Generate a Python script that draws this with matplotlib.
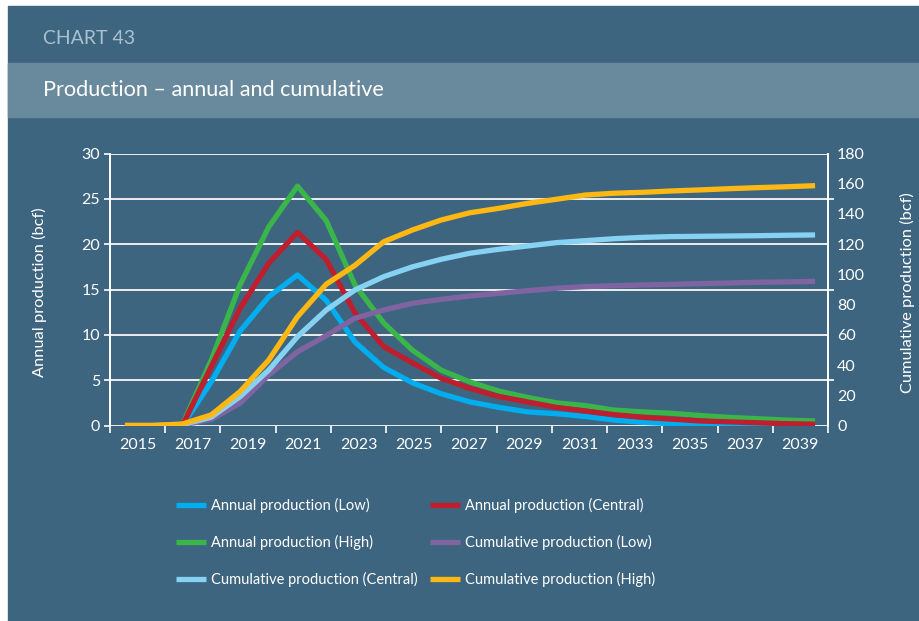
import numpy as np
import matplotlib.pyplot as plt
from matplotlib.patches import Rectangle
from matplotlib.lines import Line2D

plt.rcParams['font.family'] = ['Lato', 'DejaVu Sans']

years = list(range(2015, 2040))
year_labels = [str(y) for y in years[::2]]

# annual production, bcf (left axis)
annual_low = [0, 0, 0, 4.8, 10.4, 14.2, 16.6, 13.8, 9.2, 6.4, 4.7, 3.5, 2.6, 2.0, 1.5,
              1.3, 1.0, 0.6, 0.35, 0.2, 0.1, 0.05, 0.05, 0, 0]
annual_central = [0, 0, 0, 6.5, 12.9, 17.9, 21.3, 18.3, 12.4, 8.7, 6.9, 5.2, 4.1, 3.2, 2.6,
                  2.0, 1.6, 1.2, 0.9, 0.7, 0.5, 0.4, 0.3, 0.2, 0.15]
annual_high = [0, 0, 0.1, 7.2, 15.5, 21.9, 26.4, 22.6, 15.5, 11.3, 8.3, 6.1, 4.8, 3.8, 3.1,
               2.5, 2.2, 1.7, 1.5, 1.35, 1.1, 0.9, 0.75, 0.6, 0.5]

# cumulative production, bcf (right axis)
cum_low = [0, 0, 0.3, 4, 14.7, 33.4, 48.8, 59.5, 71, 76.4, 80.9, 83.5, 85.7, 87.5, 89.2,
           90.8, 91.9, 92.5, 93, 93.4, 93.9, 94.3, 94.8, 95, 95.4]
cum_central = [0, 0, 0.5, 5.5, 19, 36.7, 58.8, 76.4, 89.7, 98.5, 105, 110, 114, 116.6, 118.8,
               121, 122.3, 123.6, 124.5, 125, 125.2, 125.4, 125.6, 125.9, 126.1]
cum_high = [0, 0, 1, 7, 22.4, 43.3, 72, 93.5, 106, 121.6, 129.4, 136, 140.8, 143.7, 147,
            149.7, 152.5, 153.7, 154.3, 155.2, 155.9, 156.7, 157.4, 158, 158.7]

bg = '#3E6580'
band = '#698A9D'
c_low, c_central, c_high = '#00AEEF', '#BE1E2D', '#39B54A'
c_cum_low, c_cum_central, c_cum_high = '#8064A2', '#87D1F3', '#FDB813'
lw = 3.8
fs = 11.5

fig = plt.figure(figsize=(9.19, 6.21), dpi=100, facecolor='white')

# panel and header bands (pixel coords converted to figure fraction)
W, H = 919, 621
def box(x0, y0, x1, y1, color):
    fig.patches.append(Rectangle((x0 / W, 1 - y1 / H), (x1 - x0) / W, (y1 - y0) / H,
                                 transform=fig.transFigure, color=color, zorder=-10))
box(8, 6, 919, 621, bg)
box(8, 63, 919, 117, band)
fig.text(43 / W, 1 - 38 / H, 'CHART 43', color='#A9C1CE', fontsize=14, va='center')
fig.text(43 / W, 1 - 90 / H, 'Production \u2013 annual and cumulative', color='white',
         fontsize=15.6, va='center')

ax = fig.add_axes([110 / W, 1 - 425.5 / H, 718 / W, 272 / H])
ax.set_facecolor('none')
ax2 = ax.twinx()
ax2.set_facecolor('none')

ax.plot(years, annual_low, color=c_low, lw=lw, solid_capstyle='butt')
ax.plot(years, annual_high, color=c_high, lw=lw, solid_capstyle='butt')
ax.plot(years, annual_central, color=c_central, lw=lw, solid_capstyle='butt')
ax2.plot(years, cum_low, color=c_cum_low, lw=lw, solid_capstyle='butt')
ax2.plot(years, cum_central, color=c_cum_central, lw=lw, solid_capstyle='butt')
ax2.plot(years, cum_high, color=c_cum_high, lw=lw, solid_capstyle='butt')

ax.set_xlim(2014.48, 2039.45)
ax.set_ylim(0, 30)
ax2.set_ylim(0, 180)

# x axis: tick marks split the axis into 13 equal slots, one label per slot
lo, hi = ax.get_xlim()
edges = np.linspace(lo, hi, len(year_labels) + 1)
ax.set_xticks(edges)
ax.set_xticklabels([])
ax.set_xticks((edges[:-1] + edges[1:]) / 2, minor=True)
ax.set_xticklabels(year_labels, minor=True)
ax.tick_params(axis='x', which='major', direction='out', length=5, width=1.2, color='white')
ax.tick_params(axis='x', which='minor', length=0, pad=9, labelsize=fs, labelcolor='white')

ax.set_yticks(np.arange(0, 31, 5))
ax.tick_params(axis='y', direction='out', length=4, width=1.2, color='white',
               labelsize=fs, labelcolor='white', pad=3)
ax.grid(axis='y', color='#EDEDED', lw=1.4)
ax.set_axisbelow(True)

ax2.set_yticks(np.arange(0, 181, 20))
ax2.tick_params(axis='y', which='major', length=0, pad=6.5, labelsize=fs, labelcolor='white')
ax2.set_yticks(np.arange(0, 181, 30), minor=True)
ax2.tick_params(axis='y', which='minor', direction='out', length=4, width=1.2, color='white')

for a in (ax, ax2):
    for s in a.spines.values():
        s.set_visible(False)
ax.spines['left'].set_visible(True)
ax.spines['left'].set_color('white')
ax.spines['left'].set_linewidth(1.4)
ax2.spines['right'].set_visible(True)
ax2.spines['right'].set_color('white')
ax2.spines['right'].set_linewidth(1.4)

ax.set_ylabel('Annual production (bcf)', color='white', fontsize=11.8)
ax2.set_ylabel('Cumulative production (bcf)', color='white', fontsize=11.8)
ax.yaxis.set_label_coords((47 - 110) / 718, 0.49)
ax2.yaxis.set_label_coords((900 - 110) / 718, 0.49)

names = ['Annual production (Low)', 'Annual production (Central)',
         'Annual production (High)', 'Cumulative production (Low)',
         'Cumulative production (Central)', 'Cumulative production (High)']
colors = [c_low, c_central, c_high, c_cum_low, c_cum_central, c_cum_high]
handles = [Line2D([], [], color=c, lw=lw, solid_capstyle='butt') for c in colors]
# matplotlib fills legend columns first, so reorder to read across rows
order = [0, 2, 4, 1, 3, 5]
leg = fig.legend([handles[i] for i in order], [names[i] for i in order],
                 ncol=2, loc='upper left', bbox_to_anchor=(163 / W, 1 - 485 / H),
                 frameon=False, fontsize=10.5, labelcolor='white', handlelength=2.05,
                 handletextpad=0.35, columnspacing=0.85, labelspacing=1.5)

plt.savefig('out.png', dpi=100, facecolor='white')
